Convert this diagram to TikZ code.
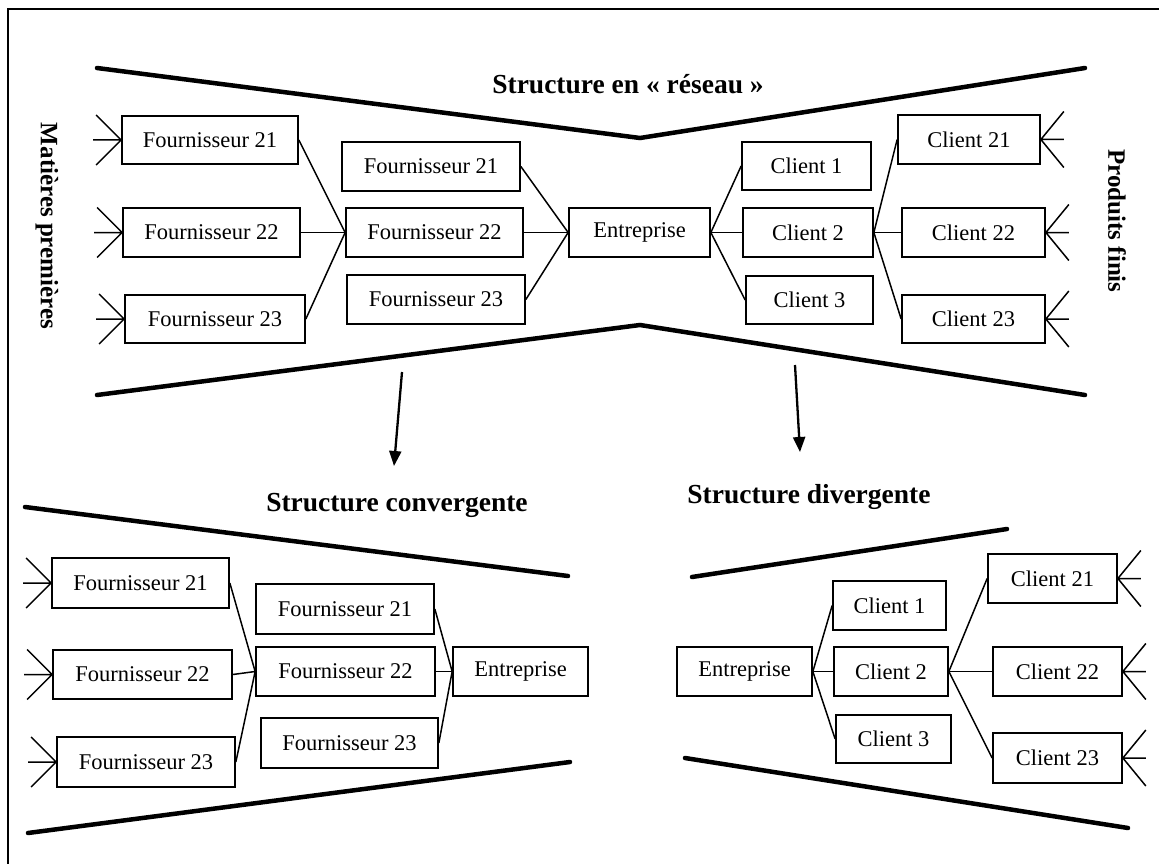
\documentclass[tikz,border=0pt]{standalone}
\usepackage{fontspec}
\setmainfont{Liberation Serif}
\usetikzlibrary{arrows.meta}

% box from its corners: name, x1, y1, x2, y2, text
\newcommand\mkbox[6]{%
  \node[box, minimum width={#4-#2}, minimum height={#5-#3}] (#1)
    at ({(#2+#4)/2},{(#3+#5)/2}) {#6};}
% incoming raw-material flow on the left side of a box
\newcommand\featherL[1]{%
  \draw[feather] (#1.west) -- ++(-25,-25) (#1.west) -- ++(-25,25) (#1.west) -- ++(-28,0);}
% outgoing finished-product flow on the right side of a box
\newcommand\featherR[1]{%
  \draw[feather] (#1.east) -- ++(23,-28) (#1.east) -- ++(23,28) (#1.east) -- ++(23,0);}

\begin{document}
\begin{tikzpicture}[x=1pt,y=-1pt,
  box/.style={draw, line width=1.7pt, inner sep=0pt, font=\fontsize{22.5}{24}\selectfont},
  link/.style={line width=1.5pt},
  funnel/.style={line width=4.5pt, line cap=round},
  feather/.style={line width=1.5pt},
  title/.style={font=\fontsize{27.5}{30}\selectfont\bfseries},
  side/.style={font=\fontsize{25}{28}\selectfont\bfseries, rotate=-90},
  flow/.style={line width=2.3pt, -{Triangle[length=15pt,width=12pt]}},
  frame/.style={line width=1.8pt}
]
\useasboundingbox (0,0) rectangle (1159,864);
\fill[white] (0,0) rectangle (1159,864);

% outer frame (open to the right and bottom)
\draw[frame] (8,864) -- (8,9) -- (1159,9);

% ---------------- network structure ----------------
\node[title] (ttitle) at (628,84) {Structure en « réseau »};
\node[side] (mp) at (47,226) {Matières premières};
\node[side] (pf) at (1117,221) {Produits finis};

\draw[funnel] (97,68) -- (640,138) -- (1085,68);
\draw[funnel] (97,395) -- (640,325) -- (1085,395);

\mkbox{tF21a}{122}{116}{298}{164}{Fournisseur 21}
\mkbox{tF22a}{123}{208}{300}{257}{Fournisseur 22}
\mkbox{tF23a}{125}{295}{305}{343}{Fournisseur 23}
\mkbox{tF21b}{342}{142}{520}{191}{Fournisseur 21}
\mkbox{tF22b}{346}{208}{523}{257}{Fournisseur 22}
\mkbox{tF23b}{347}{275}{525}{324}{Fournisseur 23}
\mkbox{tEnt}{569}{208}{710}{257}{Entreprise}
\mkbox{tC1}{742}{142}{871}{190}{Client 1}
\mkbox{tC2}{743}{208}{873}{257}{Client 2}
\mkbox{tC3}{746}{276}{873}{324}{Client 3}
\mkbox{tC21}{898}{115}{1040}{164}{Client 21}
\mkbox{tC22}{902}{208}{1045}{257}{Client 22}
\mkbox{tC23}{902}{295}{1045}{343}{Client 23}

\featherL{tF21a}\featherL{tF22a}\featherL{tF23a}
\featherR{tC21}\featherR{tC22}\featherR{tC23}

\draw[link] (tF21a.east) -- (tF22b.west);
\draw[link] (tF22a.east) -- (tF22b.west);
\draw[link] (tF23a.east) -- (tF22b.west);
\draw[link] (tF21b.east) -- (tEnt.west);
\draw[link] (tF22b.east) -- (tEnt.west);
\draw[link] (tF23b.east) -- (tEnt.west);
\draw[link] (tEnt.east) -- (tC1.west);
\draw[link] (tEnt.east) -- (tC2.west);
\draw[link] (tEnt.east) -- (tC3.west);
\draw[link] (tC2.east) -- (tC21.west);
\draw[link] (tC2.east) -- (tC22.west);
\draw[link] (tC2.east) -- (tC23.west);

% ---------------- split into two structures ----------------
\coordinate (al1) at (402,372);
\coordinate (al2) at (394,466);
\coordinate (ar1) at (795,365);
\coordinate (ar2) at (800,452);
\draw[flow] (al1) -- (al2);
\draw[flow] (ar1) -- (ar2);

% ---------------- converging structure ----------------
\node[title] (ctitle) at (397,505) {Structure convergente};
\draw[funnel] (25,507) -- (568,576);
\draw[funnel] (28,833) -- (570,762);

\mkbox{cF21a}{52}{558}{229}{608}{Fournisseur 21}
\mkbox{cF22a}{53}{650}{232}{699}{Fournisseur 22}
\mkbox{cF23a}{57}{737}{235}{787}{Fournisseur 23}
\mkbox{cF21b}{256}{584}{434}{634}{Fournisseur 21}
\mkbox{cF22b}{256}{647}{435}{696}{Fournisseur 22}
\mkbox{cF23b}{261}{718}{438}{768}{Fournisseur 23}
\mkbox{cEnt}{453}{647}{588}{696}{Entreprise}

\featherL{cF21a}\featherL{cF22a}\featherL{cF23a}

\draw[link] (cF21a.east) -- (cF22b.west);
\draw[link] (cF22a.east) -- (cF22b.west);
\draw[link] (cF23a.east) -- (cF22b.west);
\draw[link] (cF21b.east) -- (cEnt.west);
\draw[link] (cF22b.east) -- (cEnt.west);
\draw[link] (cF23b.east) -- (cEnt.west);

% ---------------- diverging structure ----------------
\node[title] (dtitle) at (809,497) {Structure divergente};
\draw[funnel] (692,577) -- (1007,529);
\draw[funnel] (685,758) -- (1128,828);

\mkbox{dEnt}{677}{647}{812}{696}{Entreprise}
\mkbox{dC1}{833}{581}{946}{630}{Client 1}
\mkbox{dC2}{834}{647}{948}{696}{Client 2}
\mkbox{dC3}{836}{715}{951}{763}{Client 3}
\mkbox{dC21}{988}{554}{1117}{603}{Client 21}
\mkbox{dC22}{993}{647}{1122}{696}{Client 22}
\mkbox{dC23}{993}{733}{1122}{783}{Client 23}

\featherR{dC21}\featherR{dC22}\featherR{dC23}

\draw[link] (dEnt.east) -- (dC1.west);
\draw[link] (dEnt.east) -- (dC2.west);
\draw[link] (dEnt.east) -- (dC3.west);
\draw[link] (dC2.east) -- (dC21.west);
\draw[link] (dC2.east) -- (dC22.west);
\draw[link] (dC2.east) -- (dC23.west);
\end{tikzpicture}
\end{document}
